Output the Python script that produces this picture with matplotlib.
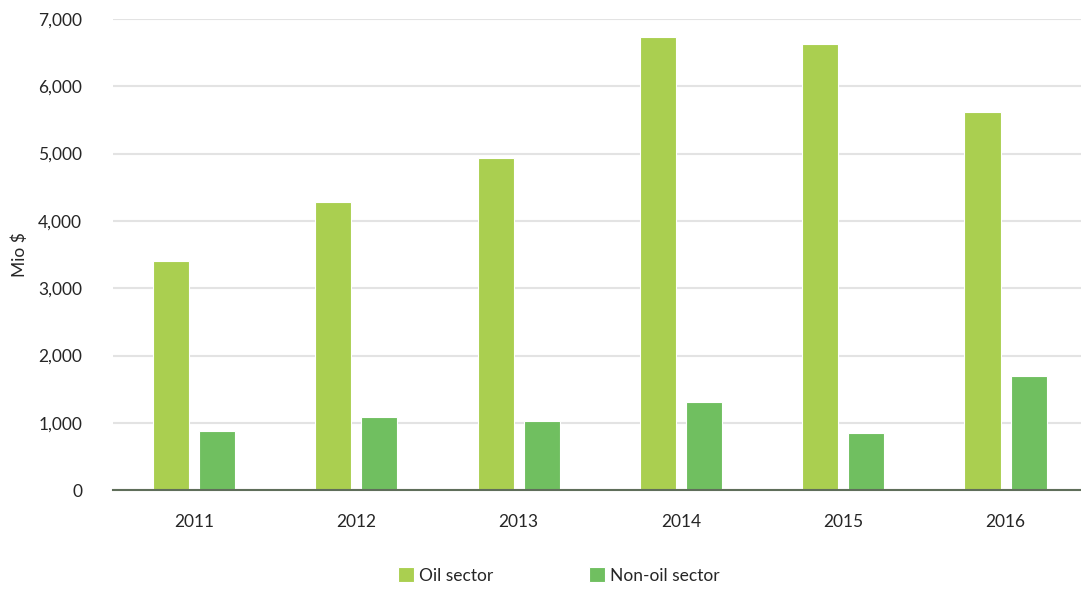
import matplotlib
matplotlib.use("Agg")
import matplotlib.pyplot as plt
import numpy as np
from matplotlib.ticker import FuncFormatter, MultipleLocator

years = ["2011", "2012", "2013", "2014", "2015", "2016"]
oil_sector = [3400, 4280, 4930, 6730, 6625, 5615]
non_oil_sector = [880, 1090, 1030, 1310, 850, 1695]

plt.rcParams['font.family'] = ['Lato', 'DejaVu Sans']

fig = plt.figure(figsize=(10.81, 5.92), dpi=100)
ax = fig.add_axes([0.1043, 0.172, 0.901, 0.796])

x = np.arange(len(years))
w = 0.222
ax.bar(x - 0.142, oil_sector, w, color='#AACF50', edgecolor='white', linewidth=0.8, label='Oil sector', zorder=3)
ax.bar(x + 0.142, non_oil_sector, w, color='#70BF60', edgecolor='white', linewidth=0.8, label='Non-oil sector', zorder=3)

ax.set_xlim(-0.5, len(years) - 0.5)
ax.set_ylim(0, 7000)
ax.yaxis.set_major_locator(MultipleLocator(1000))
ax.yaxis.set_major_formatter(FuncFormatter(lambda v, p: f"{int(v):,}"))
ax.set_xticks(x)
ax.set_xticklabels(years)
ax.grid(axis='y', color='#e3e3e3', linewidth=1.5, zorder=0)
for s in ['top', 'right', 'left']:
    ax.spines[s].set_visible(False)
ax.spines['bottom'].set_color('#5f6e5a')
ax.spines['bottom'].set_linewidth(1.5)
ax.spines['bottom'].set_zorder(4)
ax.tick_params(axis='both', length=0, labelsize=12.5, colors='#262626')
ax.tick_params(axis='y', pad=22)
ax.tick_params(axis='x', pad=17)
ax.set_ylabel('Mio $', fontsize=12.5, color='#262626')
ax.yaxis.set_label_coords(-0.087, 0.5)

leg = fig.legend(loc='center', bbox_to_anchor=(0.517, 0.028), ncol=2, frameon=False,
                 fontsize=12.5, handlelength=0.9, handleheight=0.9, handletextpad=0.3,
                 columnspacing=5.5)
for t in leg.get_texts():
    t.set_color('#262626')

fig.savefig('out.png', dpi=100)
